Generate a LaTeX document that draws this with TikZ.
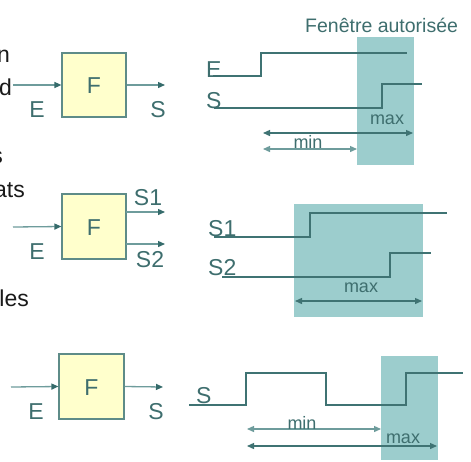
\documentclass[tikz,border=0pt]{standalone}
\usepackage{fontspec}
\setmainfont{Liberation Sans}
\usetikzlibrary{arrows.meta}
\definecolor{tealtxt}{HTML}{3E6E6E}
\definecolor{tealline}{HTML}{3F7373}
\definecolor{tealarrow}{HTML}{6E9C9C}
\definecolor{tealhead}{HTML}{356B6B}
\definecolor{shade}{HTML}{9CCDCD}
\definecolor{boxfill}{HTML}{FFFFCC}
\definecolor{boxline}{HTML}{5E8C88}
\definecolor{fragtxt}{HTML}{1A1A1A}
\tikzset{
  fbox/.style={draw=boxline, line width=1.2pt, fill=boxfill, minimum width=64pt, minimum height=64pt, inner sep=0pt},
  ftext/.style={text=tealtxt, font=\fontsize{23}{26}\selectfont},
  lbl/.style={text=tealtxt, font=\fontsize{23}{26}\selectfont, inner sep=0pt},
  small/.style={text=tealtxt, font=\fontsize{18}{20}\selectfont, inner sep=0pt},
  frag/.style={text=fragtxt, font=\fontsize{23}{26}\selectfont, inner sep=0pt, anchor=base east},
  inarrow/.style={draw=tealarrow, line width=1.3pt, -{Triangle[length=7pt,width=6pt,fill=tealhead,color=tealhead]}},
  sig/.style={draw=tealline, line width=1.6pt},
  dim/.style={draw=tealline, line width=1.3pt, {Triangle[length=7pt,width=6pt]}-{Triangle[length=7pt,width=6pt]}},
  win/.style={fill=shade, draw=none}
}
\begin{document}
\begin{tikzpicture}[x=1pt,y=-1pt]
\useasboundingbox (0,0) rectangle (471,461);
\clip (0,0) rectangle (471,461);
\fill[white] (0,0) rectangle (471,461);

% left text fragments
\node[frag] (f1) at (10,62) {n};
\node[frag] (f2) at (12,95) {d};
\node[frag] (f3) at (3,163) {s};
\node[frag] (f4) at (25,197) {ats};
\node[frag] (f5) at (29,306) {les};

% ---------- Block 1 ----------
\node[fbox] (F1) at (94,85) {};
\node[ftext] (F1t) at (94,86) {F};
\coordinate (i1) at (13,85);
\coordinate (o1) at (165,85);
\draw[inarrow] (i1) -- (F1.west);
\draw[inarrow] (F1.east) -- (o1);
\node[lbl, anchor=base] (E1) at (37,117) {E};
\node[lbl, anchor=base] (S1l) at (158,117) {S};

% timing 1
\node[win, minimum width=57pt, minimum height=128pt, inner sep=0pt] (W1) at (385.5,101) {};
\node[text=tealtxt, font=\fontsize{19.5}{22}\selectfont, inner sep=0pt, anchor=base west] (fa) at (305,32) {Fenêtre autorisée};
\coordinate (e0) at (213,76); \coordinate (e1) at (261,76); \coordinate (e2) at (261,53); \coordinate (e3) at (407,53);
\draw[sig] (e0) -- (e1) -- (e2) -- (e3);
\coordinate (s0) at (214,108); \coordinate (s1) at (382,108); \coordinate (s2) at (382,84); \coordinate (s3) at (422,84);
\draw[sig] (s0) -- (s1) -- (s2) -- (s3);
\node[lbl, anchor=base west] (tE) at (206,77) {E};
\node[lbl, anchor=base west] (tS) at (206,108) {S};
\coordinate (ma0) at (263,133); \coordinate (ma1) at (413,133);
\draw[dim] (ma0) -- (ma1);
\node[small, anchor=base] (mx1) at (387,124) {max};
\coordinate (mi0) at (263,149); \coordinate (mi1) at (357,149);
\draw[dim, draw=tealarrow] (mi0) -- (mi1);
\node[small, anchor=base] (mn1) at (308,148) {min};

% ---------- Block 2 ----------
\node[fbox, minimum height=65pt] (F2) at (94,226.5) {};
\node[ftext] (F2t) at (94,228) {F};
\coordinate (i2) at (13,227);
\draw[inarrow] (i2) -- (F2.west);
\coordinate (a1s) at (126,212); \coordinate (a1e) at (165,212);
\coordinate (a2s) at (126,244); \coordinate (a2e) at (165,244);
\draw[inarrow] (a1s) -- (a1e);
\draw[inarrow] (a2s) -- (a2e);
\node[lbl, anchor=base] (E2) at (37,259) {E};
\node[lbl, anchor=base] (S21) at (148,205) {S1};
\node[lbl, anchor=base] (S22) at (150,267) {S2};

% timing 2
\node[win, minimum width=129pt, minimum height=113pt, inner sep=0pt] (W2) at (358.5,260.5) {};
\coordinate (p0) at (214,237); \coordinate (p1) at (310,237); \coordinate (p2) at (310,213); \coordinate (p3) at (447,213);
\draw[sig] (p0) -- (p1) -- (p2) -- (p3);
\coordinate (q0) at (222,277); \coordinate (q1) at (390,277); \coordinate (q2) at (390,253); \coordinate (q3) at (431,253);
\draw[sig] (q0) -- (q1) -- (q2) -- (q3);
\node[lbl, anchor=base west] (tS1) at (208,236) {S1};
\node[lbl, anchor=base west] (tS2) at (208,275) {S2};
\coordinate (mb0) at (295,301); \coordinate (mb1) at (422,301);
\draw[dim] (mb0) -- (mb1);
\node[small, anchor=base] (mx2) at (361,292) {max};

% ---------- Block 3 ----------
\node[fbox, minimum width=65pt, minimum height=65pt] (F3) at (91.5,386.5) {};
\node[ftext] (F3t) at (91.5,388) {F};
\coordinate (i3) at (11,387);
\coordinate (o3) at (163,387);
\draw[inarrow] (i3) -- (F3.west);
\draw[inarrow] (F3.east) -- (o3);
\node[lbl, anchor=base] (E3) at (36,419) {E};
\node[lbl, anchor=base] (S3l) at (156,419) {S};

% timing 3
\node[win, minimum width=57pt, minimum height=104pt, inner sep=0pt] (W3) at (409.5,408) {};
\coordinate (r0) at (189,405); \coordinate (r1) at (246,405); \coordinate (r2) at (246,373); \coordinate (r3) at (326,373);
\coordinate (r4) at (326,405); \coordinate (r5) at (406,405); \coordinate (r6) at (406,373); \coordinate (r7) at (463,373);
\draw[sig] (r0) -- (r1) -- (r2) -- (r3) -- (r4) -- (r5) -- (r6) -- (r7);
\node[lbl, anchor=base west] (tS3) at (196,403) {S};
\coordinate (mc0) at (247,429); \coordinate (mc1) at (381,429);
\draw[dim, draw=tealarrow] (mc0) -- (mc1);
\node[small, anchor=base] (mn3) at (302,429) {min};
\coordinate (md0) at (247,446); \coordinate (md1) at (437,446);
\draw[dim] (md0) -- (md1);
\node[small, anchor=base] (mx3) at (403,443) {max};
\end{tikzpicture}
\end{document}
